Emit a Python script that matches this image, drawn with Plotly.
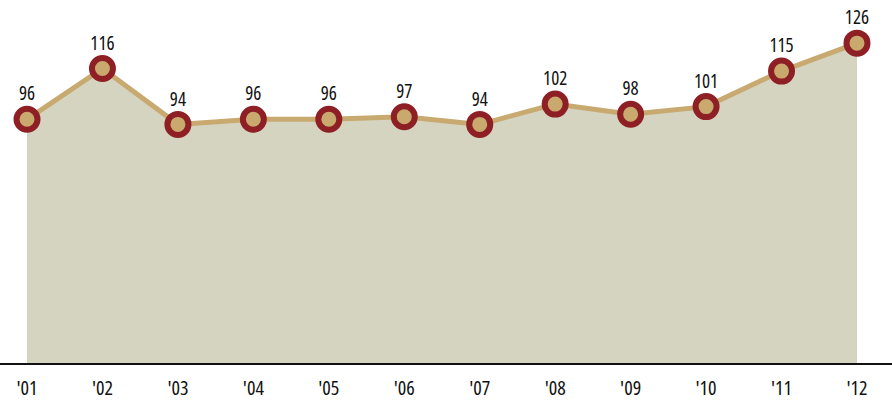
import plotly.graph_objects as go

years = ["'01", "'02", "'03", "'04", "'05", "'06", "'07", "'08", "'09", "'10", "'11", "'12"]
values = [96, 116, 94, 96, 96, 97, 94, 102, 98, 101, 115, 126]
labels = [str(v) for v in values]

FONT = "Open Sans"
xs = list(range(len(years)))

fig = go.Figure()
fig.add_trace(go.Scatter(
    x=xs, y=values, mode="lines+markers+text",
    fill="tozeroy", fillcolor="#D5D4C0",
    line=dict(color="#C8AA70", width=5),
    marker=dict(size=21, color="#C9A96E", line=dict(color="#8E1F24", width=6)),
    text=labels, textposition="top center",
    textfont=dict(family=FONT, size=19, color="#111111"),
    cliponaxis=False, hoverinfo="skip",
))

fig.update_layout(
    width=892, height=401,
    margin=dict(l=0, r=0, t=0, b=38, autoexpand=False),
    paper_bgcolor="white", plot_bgcolor="white",
    showlegend=False,
    xaxis=dict(range=[-0.358, 11.464], tickmode="array", tickvals=xs, ticktext=years,
               showgrid=False, zeroline=False, showline=True, linecolor="#111111", linewidth=2,
               ticks="", ticklabelstandoff=6,
               tickfont=dict(family=FONT, size=20, color="#111111")),
    yaxis=dict(range=[0, 143], visible=False, showgrid=False, zeroline=False),
)

post = (
    "document.body.style.margin='0';"
    "var s=document.createElement('style');"
    "s.textContent='svg text{font-stretch:75% !important;font-variation-settings:\"wdth\" 75;}';"
    "document.head.appendChild(s);"
)
fig.write_html("out.html", post_script=post, config={"displayModeBar": False})
